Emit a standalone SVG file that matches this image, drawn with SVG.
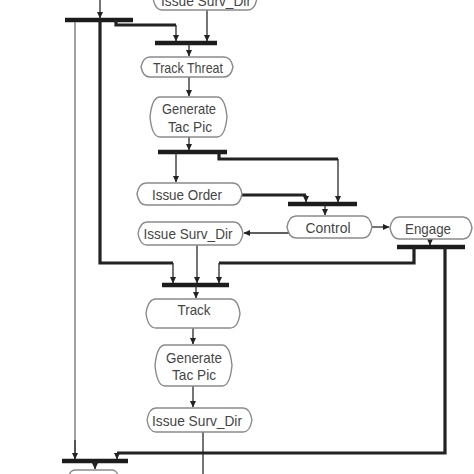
<svg xmlns="http://www.w3.org/2000/svg" width="474" height="474" viewBox="0 0 474 474">
<style>
.n{fill:#fff;stroke:#8a8a8a;stroke-width:1.4;stroke-linejoin:round}
.t{font-family:"Liberation Sans",Arial,sans-serif;font-size:15px;fill:#454545;text-anchor:middle}
.a{fill:none;stroke:#2a2a2a;stroke-width:1.3}
.k{fill:none;stroke:#222;stroke-width:3.2}
.b{fill:none;stroke:#1c1c1c;stroke-width:4.5}
.g{fill:none;stroke:#8a8a8a;stroke-width:1.6}
</style>
<defs>
<marker id="ar" markerWidth="7" markerHeight="7" refX="6" refY="3.5" orient="auto" markerUnits="userSpaceOnUse">
<path d="M0,0.5 L6.5,3.5 L0,6.5 z" fill="#222"/>
</marker>
</defs>
<rect width="474" height="474" fill="#fff"/>
<g id="connectors">
<line class="a" x1="100" y1="0" x2="100" y2="18" marker-end="url(#ar)"/>
<line class="b" x1="65" y1="20" x2="133" y2="20"/>
<line class="g" x1="75" y1="22" x2="75" y2="459"/>
<path class="a" d="M75,440 V459" marker-end="url(#ar)"/>
<path class="k" d="M100,20 V263 H173"/>
<line class="a" x1="173" y1="263" x2="173" y2="283" marker-end="url(#ar)"/>
<path class="k" d="M116,20 V25 H176"/>
<line class="a" x1="176" y1="25" x2="176" y2="41" marker-end="url(#ar)"/>
<line class="a" x1="207" y1="10" x2="207" y2="41" marker-end="url(#ar)"/>
<line class="b" x1="155" y1="43" x2="217" y2="43"/>
<line class="a" x1="189" y1="43" x2="189" y2="56" marker-end="url(#ar)"/>
<line class="a" x1="189" y1="77" x2="189" y2="96" marker-end="url(#ar)"/>
<line class="a" x1="189" y1="137" x2="189" y2="150" marker-end="url(#ar)"/>
<line class="b" x1="158" y1="152" x2="227" y2="152"/>
<line class="a" x1="176" y1="152" x2="176" y2="182" marker-end="url(#ar)"/>
<path class="k" d="M219,152 V159 H338"/>
<line class="a" x1="338" y1="159" x2="338" y2="202" marker-end="url(#ar)"/>
<path class="k" d="M242,195 H306"/>
<line class="a" x1="306" y1="195" x2="306" y2="202" marker-end="url(#ar)"/>
<line class="b" x1="288" y1="204" x2="357" y2="204"/>
<line class="a" x1="325" y1="204" x2="325" y2="215" marker-end="url(#ar)"/>
<line class="a" x1="372" y1="227" x2="389" y2="227" marker-end="url(#ar)"/>
<line class="a" x1="290" y1="233" x2="244" y2="233" marker-end="url(#ar)"/>
<line class="a" x1="430" y1="239" x2="430" y2="245" marker-end="url(#ar)"/>
<line class="b" x1="397" y1="247" x2="465" y2="247"/>
<path class="k" d="M414,247 V263 H219"/>
<line class="a" x1="219" y1="263" x2="219" y2="283" marker-end="url(#ar)"/>
<line class="a" x1="197" y1="245" x2="197" y2="283" marker-end="url(#ar)"/>
<line class="b" x1="162" y1="285" x2="229" y2="285"/>
<line class="a" x1="196" y1="285" x2="196" y2="298" marker-end="url(#ar)"/>
<line class="a" x1="193" y1="328" x2="193" y2="344" marker-end="url(#ar)"/>
<line class="a" x1="193" y1="386" x2="193" y2="407" marker-end="url(#ar)"/>
<line class="a" x1="203" y1="432" x2="203" y2="474"/>
<path class="k" d="M445,247 V453 H117"/>
<line class="a" x1="117" y1="453" x2="117" y2="459" marker-end="url(#ar)"/>
<line class="b" x1="62" y1="461" x2="128" y2="461"/>
<line class="a" x1="95" y1="461" x2="95" y2="469" marker-end="url(#ar)"/>
</g>
<g id="n-top">
<path class="n" d="M162,-14 H248 Q255,-14 257,-2 Q255,10 248,10 H162 Q155,10 153,-2 Q155,-14 162,-14 Z"/>
<text class="t" x="206" y="6" textLength="90" lengthAdjust="spacingAndGlyphs">Issue Surv_Dir</text>
</g>
<g id="n-trackthreat">
<path class="n" d="M150,57 H224 Q231,57 233,67 Q231,77 224,77 H150 Q143,77 141,67 Q143,57 150,57 Z"/>
<text class="t" x="188" y="72.5" textLength="70" lengthAdjust="spacingAndGlyphs">Track Threat</text>
</g>
<g id="n-gentac1">
<path class="n" d="M160,97 H217 Q225,97 227,117 Q225,137 217,137 H160 Q152,137 150,117 Q152,97 160,97 Z"/>
<text class="t" x="189" y="114" textLength="54" lengthAdjust="spacingAndGlyphs">Generate</text>
<text class="t" x="190" y="132" textLength="44" lengthAdjust="spacingAndGlyphs">Tac Pic</text>
</g>
<g id="n-issueorder">
<path class="n" d="M146,183 H233 Q240,183 242,194 Q240,205 233,205 H146 Q139,205 137,194 Q139,183 146,183 Z"/>
<text class="t" x="187" y="200" textLength="70" lengthAdjust="spacingAndGlyphs">Issue Order</text>
</g>
<g id="n-control">
<path class="n" d="M296,216 H363 Q370,216 372,227 Q370,238 363,238 H296 Q289,238 287,227 Q289,216 296,216 Z"/>
<text class="t" x="328" y="232.5" textLength="45" lengthAdjust="spacingAndGlyphs">Control</text>
</g>
<g id="n-engage">
<path class="n" d="M399,217 H463 Q470,217 472,228 Q470,239 463,239 H399 Q392,239 390,228 Q392,217 399,217 Z"/>
<text class="t" x="428" y="233.5" textLength="46" lengthAdjust="spacingAndGlyphs">Engage</text>
</g>
<g id="n-issuesurv2">
<path class="n" d="M147,222 H234 Q241,222 243,233.5 Q241,245 234,245 H147 Q140,245 138,233.5 Q140,222 147,222 Z"/>
<text class="t" x="188" y="239" textLength="89" lengthAdjust="spacingAndGlyphs">Issue Surv_Dir</text>
</g>
<g id="n-track">
<path class="n" d="M156,299 H230 Q238,299 240,313.5 Q238,328 230,328 H156 Q148,328 146,313.5 Q148,299 156,299 Z"/>
<text class="t" x="194" y="315" textLength="33" lengthAdjust="spacingAndGlyphs">Track</text>
</g>
<g id="n-gentac2">
<path class="n" d="M165,345 H222 Q230,345 232,365.5 Q230,386 222,386 H165 Q157,386 155,365.5 Q157,345 165,345 Z"/>
<text class="t" x="194" y="363" textLength="56" lengthAdjust="spacingAndGlyphs">Generate</text>
<text class="t" x="194" y="380" textLength="44" lengthAdjust="spacingAndGlyphs">Tac Pic</text>
</g>
<g id="n-issuesurv3">
<path class="n" d="M156,408 H243 Q250,408 252,420 Q250,432 243,432 H156 Q149,432 147,420 Q149,408 156,408 Z"/>
<text class="t" x="197" y="426" textLength="90" lengthAdjust="spacingAndGlyphs">Issue Surv_Dir</text>
</g>
<g id="n-bottom">
<path class="n" d="M75,470 H112 Q118,470 120,482 Q118,494 112,494 H75 Q69,494 67,482 Q69,470 75,470 Z"/>
</g>
</svg>
